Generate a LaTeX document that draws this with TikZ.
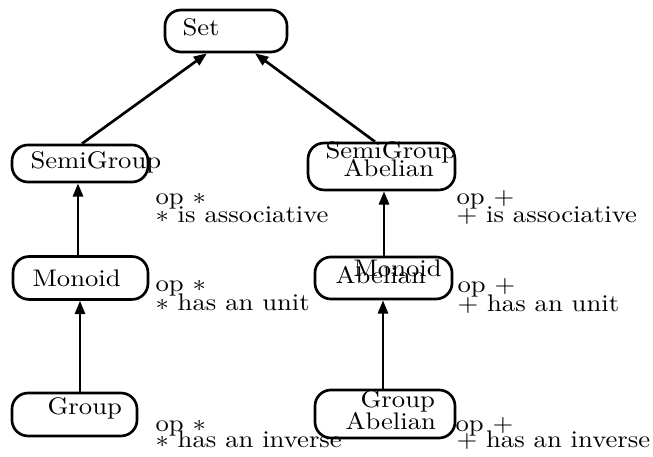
\documentclass[tikz,border=0pt]{standalone}
\usetikzlibrary{arrows.meta,calc}
\newcommand{\squash}[1]{\scalebox{1}[0.9]{#1}}
\begin{document}
\begin{tikzpicture}[x=0.375pt, y=-0.375pt,
  pill/.style={draw, line width=1pt, rounded corners=6pt, inner sep=0pt},
  txt/.style={anchor=base west, inner sep=0pt, font=\fontsize{10}{12}\selectfont},
  link/.style={line width=1pt, -{Triangle[length=5pt,width=3.8pt]}}]
\useasboundingbox (0,0) rectangle (653,457);

% class boxes
\node[pill, minimum width=45.75pt, minimum height=15.75pt] (set)  at (226,31)    {};
\node[pill, minimum width=51pt,    minimum height=13.9pt]  (sg)   at (80,163.5)  {};
\node[pill, minimum width=55.1pt,  minimum height=17.6pt]  (sga)  at (381.5,166.5) {};
\node[pill, minimum width=50.6pt,  minimum height=16.1pt]  (mon)  at (80.5,278)  {};
\node[pill, minimum width=51.4pt,  minimum height=15.75pt] (mona) at (383.5,278) {};
\node[pill, minimum width=46.9pt,  minimum height=16.1pt]  (grp)  at (74.5,414.5) {};
\node[pill, minimum width=52.5pt,  minimum height=18pt]    (grpa) at (385,414)   {};

% box titles
\node[txt] (tset)   at (182,36)  {\squash{Set}};
\node[txt] (tsg)    at (30,169)  {\squash{SemiGroup}};
\node[txt] (tsga1)  at (325,159) {\squash{SemiGroup}};
\node[txt] (tsga2)  at (343,177) {\squash{Abelian}};
\node[txt] (tmon)   at (32,287)  {\squash{Monoid}};
\node[txt] (tmona1) at (353,277) {\squash{Monoid}};
\node[txt] (tmona2) at (335,284) {\squash{Abelian}};
\node[txt] (tgrp)   at (47,415)  {\squash{Group}};
\node[txt] (tgrpa1) at (360,408) {\squash{Group}};
\node[txt] (tgrpa2) at (345,430) {\squash{Abelian}};

% inheritance links
\draw[link] ($(sg.north)+(2,0)$) -- ($(set.south)+(-19,0)$);
\draw[link] ($(sga.north)+(-6.5,0)$) -- ($(set.south)+(29,0)$);
\draw[link] ($(mon.north)+(-2.5,0)$) -- ($(sg.south)+(-2,0)$);
\draw[link] ($(grp.north)+(5.5,0)$) -- ($(mon.south)+(-0.5,0)$);
\draw[link] ($(mona.north)+(0.5,0)$) -- ($(sga.south)+(2.5,0)$);
\draw[link] ($(grpa.north)+(-2,0)$) -- ($(mona.south)+(-0.5,0)$);

% properties, multiplicative side
\node[txt] (p1a) at (155,205) {\squash{op $\ast$}};
\node[txt] (p1b) at (155,223) {\squash{$\ast$ is associative}};
\node[txt] (p2a) at (155,292) {\squash{op $\ast$}};
\node[txt] (p2b) at (155,311) {\squash{$\ast$ has an unit}};
\node[txt] (p3a) at (155,432) {\squash{op $\ast$}};
\node[txt] (p3b) at (155,448) {\squash{$\ast$ has an inverse}};

% properties, additive side
\node[txt] (q1a) at (456,205) {\squash{op $+$}};
\node[txt] (q1b) at (456,223) {\squash{$+$ is associative}};
\node[txt] (q2a) at (457,293) {\squash{op $+$}};
\node[txt] (q2b) at (457,312) {\squash{$+$ has an unit}};
\node[txt] (q3a) at (455,432) {\squash{op $+$}};
\node[txt] (q3b) at (456,448) {\squash{$+$ has an inverse}};
\end{tikzpicture}
\end{document}
